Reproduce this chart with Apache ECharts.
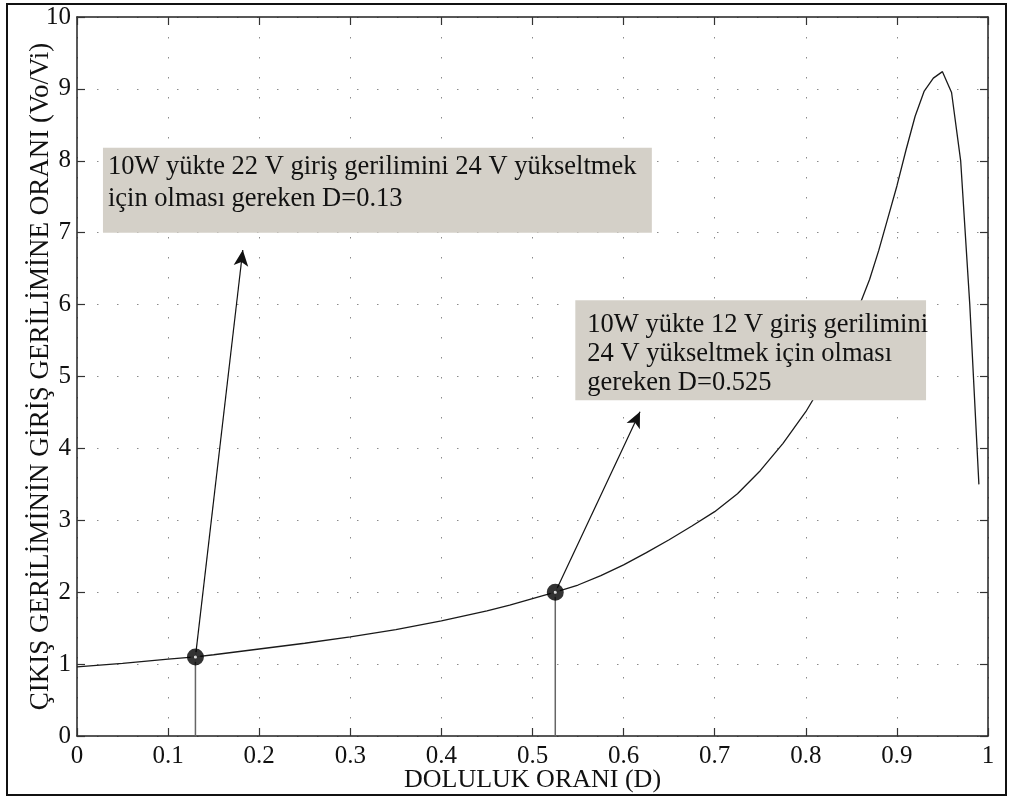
<!DOCTYPE html>
<html>
<head>
<meta charset="utf-8">
<script src="https://cdn.jsdelivr.net/npm/echarts@6/dist/echarts.min.js"></script>
<style>
  html, body { margin: 0; padding: 0; background: #fff; }
  #chart { width: 1013px; height: 801px; }
</style>
</head>
<body>
<div id="chart"></div>
<script>
// Duty cycle (D) vs voltage gain (Vo/Vi)
const dutyCycle = [0, 0.05, 0.1, 0.13, 0.15, 0.2, 0.25, 0.3, 0.35, 0.4, 0.45, 0.475, 0.5, 0.525, 0.55, 0.575, 0.6, 0.625, 0.65, 0.675, 0.7, 0.725, 0.75, 0.775, 0.8, 0.825, 0.85, 0.87, 0.88, 0.89, 0.9, 0.91, 0.92, 0.93, 0.94, 0.95, 0.96, 0.97, 0.98, 0.99]
const gain = [0.96, 1.01, 1.07, 1.1, 1.13, 1.21, 1.29, 1.38, 1.48, 1.6, 1.74, 1.82, 1.91, 2.0, 2.1, 2.23, 2.38, 2.55, 2.73, 2.92, 3.12, 3.37, 3.69, 4.07, 4.51, 5.04, 5.7, 6.35, 6.75, 7.2, 7.65, 8.15, 8.62, 8.97, 9.15, 9.24, 8.95, 8.0, 6.0, 3.5]

// Operating points marked on the curve
const opDuty = [0.13, 0.525]
const opGain = [1.1, 2.0]

// Arrow tips (data coords) pointing to the notes
const arrowTipDuty = [0.182, 0.618]
const arrowTipGain = [6.76, 4.51]

// Note boxes: [left D, top V, right D, bottom V]
const noteBoxes = [
  [0.0285, 8.18, 0.631, 7.0],
  [0.547, 6.06, 0.932, 4.67],
]
const noteTexts = [
  '10W yükte 22 V giriş gerilimini 24 V yükseltmek\niçin olması gereken D=0.13',
  '10W yükte 12 V giriş gerilimini\n24 V yükseltmek için olması\ngereken D=0.525',
]

const xTicks = ['0', '0.1', '0.2', '0.3', '0.4', '0.5', '0.6', '0.7', '0.8', '0.9', '1']
const yTicks = ['0', '1', '2', '3', '4', '5', '6', '7', '8', '9', '10']

const FONT = '"Liberation Serif", "DejaVu Serif", serif'

const chart = echarts.init(document.getElementById('chart'), null, { renderer: 'canvas' })

const dotted = { color: '#8a8a8a', width: 1, type: [1.5, 18.5] }

const frameAxis = (extra) => ({
  min: 0,
  axisLine: { show: true, onZero: false, lineStyle: { color: '#222', width: 1.5 } },
  axisTick: { show: true, inside: true, length: 8, lineStyle: { color: '#333', width: 1.2 } },
  ...extra,
})

const option = {
  animation: false,
  backgroundColor: '#fff',
  grid: { left: 77, right: 25, top: 17, bottom: 65, containLabel: false },
  xAxis: [
    frameAxis({
      type: 'value', max: 1, interval: 0.1, position: 'bottom',
      name: 'DOLULUK ORANI (D)', nameLocation: 'middle', nameGap: 31,
      nameMoveOverlap: false,
      nameTextStyle: { fontFamily: FONT, fontSize: 26, color: '#111' },
      axisLabel: {
        fontFamily: FONT, fontSize: 25, color: '#111', margin: 8,
        formatter: (v) => xTicks[Math.round(v * 10)] ?? '',
      },
      splitLine: { show: true, lineStyle: dotted },
    }),
    frameAxis({
      type: 'value', max: 1, interval: 0.1, position: 'top',
      axisLabel: { show: false }, splitLine: { show: false },
    }),
  ],
  yAxis: [
    frameAxis({
      type: 'value', max: 10, interval: 1, position: 'left',
      name: 'ÇIKIŞ GERİLİMİNİN GİRİŞ GERİLİMİNE ORANI (Vo/Vi)',
      nameLocation: 'middle', nameGap: 23, nameRotate: 90,
      nameMoveOverlap: false,
      nameTextStyle: { fontFamily: FONT, fontSize: 27, color: '#111' },
      axisLabel: {
        fontFamily: FONT, fontSize: 25, color: '#111', margin: 6,
        formatter: (v) => yTicks[Math.round(v)] ?? '',
      },
      splitLine: { show: true, lineStyle: dotted },
    }),
    frameAxis({
      type: 'value', max: 10, interval: 1, position: 'right',
      axisLabel: { show: false }, splitLine: { show: false },
    }),
  ],
  series: [
    {
      name: 'gain',
      type: 'line',
      data: dutyCycle.map((d, i) => [d, gain[i]]),
      showSymbol: false,
      lineStyle: { color: '#1a1a1a', width: 1.3 },
      z: 2,
    },
    // vertical drop lines from the operating points
    ...opDuty.map((d, i) => ({
      type: 'line',
      data: [[d, 0], [d, opGain[i]]],
      showSymbol: false,
      lineStyle: { color: '#666', width: 1.5 },
      z: 2,
    })),
    {
      type: 'scatter',
      data: opDuty.map((d, i) => [d, opGain[i]]),
      symbol: 'circle',
      symbolSize: 10,
      itemStyle: { color: '#fff', borderColor: '#000', borderWidth: 7 },
      z: 5,
      markLine: {
        silent: true,
        symbol: ['none', 'arrow'],
        symbolSize: [11, 16],
        label: { show: false },
        lineStyle: { color: '#111', width: 1.2, type: 'solid' },
        data: opDuty.map((d, i) => [
          { coord: [d, opGain[i]] },
          { coord: [arrowTipDuty[i], arrowTipGain[i]] },
        ]),
      },
    },
  ],
}

chart.setOption(option)

// note boxes placed in data coordinates, drawn above the curve
const notePad = [[5, 3], [12, 10]]
const noteLineHeight = [32, 29]

function drawNotes() {
  const elements = []
  noteBoxes.forEach((b, i) => {
    const p1 = chart.convertToPixel({ gridIndex: 0 }, [b[0], b[1]])
    const p2 = chart.convertToPixel({ gridIndex: 0 }, [b[2], b[3]])
    elements.push({
      type: 'rect',
      shape: { x: p1[0], y: p1[1], width: p2[0] - p1[0], height: p2[1] - p1[1] },
      style: { fill: '#d4d0c8' },
      z: 10,
    })
    elements.push({
      type: 'text',
      x: p1[0] + notePad[i][0],
      y: p1[1] + notePad[i][1],
      style: {
        text: noteTexts[i],
        font: '26.5px ' + FONT,
        fill: '#111',
        lineHeight: noteLineHeight[i],
      },
      z: 11,
    })
  })
  // outer figure frame
  elements.push({
    type: 'rect',
    shape: { x: 7, y: 4, width: 999, height: 791 },
    style: { fill: 'none', stroke: '#111', lineWidth: 2 },
    z: 12,
  })
  chart.setOption({ graphic: elements })
}

drawNotes()
</script>
</body>
</html>
